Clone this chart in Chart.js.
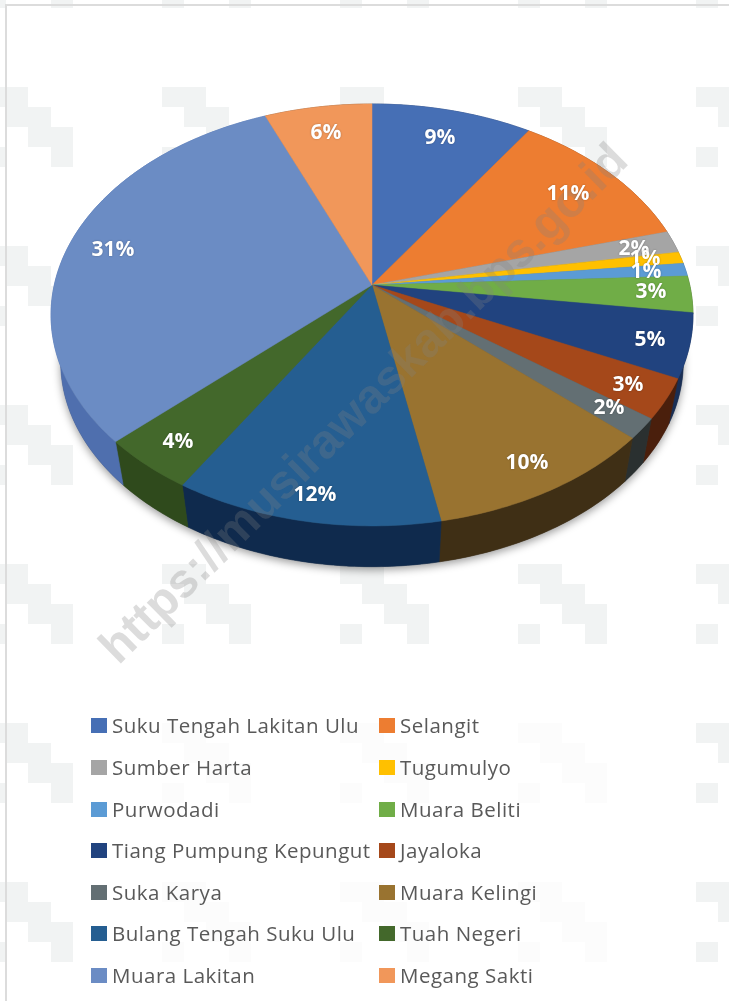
<!DOCTYPE html>
<html>
<head>
<meta charset="utf-8">
<script src="https://cdn.jsdelivr.net/npm/chart.js@4"></script>
<style>
    html, body { margin: 0; padding: 0; background: #fff; }
    #wrap { position: relative; width: 729px; height: 1001px; overflow: hidden; }
    #pie { position: absolute; left: 0; top: 0; }
    #frame { position: absolute; left: 5px; top: 4px; right: -5px; bottom: -5px; border: 2px solid #dcdcdc; }
    #legend-bg { position: absolute; left: 80px; top: 705px; width: 535px; height: 296px; background: rgba(255,255,255,0.75); }
    .item { position: absolute; font: 20.5px/24px "Open Sans", sans-serif; letter-spacing: 0.5px; color: #595959; white-space: nowrap; }
    .swatch { position: absolute; width: 16px; height: 15px; }
</style>
</head>
<body>
<div id="wrap">
    <canvas id="pie" width="729" height="1001"></canvas>
    <div id="frame"></div>
    <div id="legend-bg"></div>
    <div id="legend"></div>
</div>
<script>
// Data
const categories = ['Suku Tengah Lakitan Ulu', 'Selangit', 'Sumber Harta', 'Tugumulyo', 'Purwodadi', 'Muara Beliti',
    'Tiang Pumpung Kepungut', 'Jayaloka', 'Suka Karya', 'Muara Kelingi', 'Bulang Tengah Suku Ulu', 'Tuah Negeri',
    'Muara Lakitan', 'Megang Sakti'];
const shares = [9.3, 11.4, 1.7, 0.9, 1.0, 2.8, 4.9, 3.1, 1.6, 10.3, 11.8, 4.2, 30.8, 6.2];

// Colours
const topColors = ['#466fb5', '#ed7d31', '#a5a5a5', '#ffc000', '#5b9bd5', '#70ad47', '#21437f', '#a5481a', '#636f73',
    '#997330', '#255e91', '#43682b', '#6b8cc4', '#f1975a'];
const sideColors = ['#2a4370', '#8a4a1d', '#666666', '#99750a', '#3a6a96', '#43682b', '#1a2f55', '#4a1f0c', '#2a3030',
    '#3f2f15', '#0f2a4d', '#2f4a1c', '#4f6fae', '#8a5a35'];

// Where each percent label sits on the page
const labelAt = [[440, 138], [568, 194], [634, 249], [645, 259], [646, 272], [651, 292], [650, 340], [628, 385],
    [609, 408], [527, 463], [315, 495], [178, 442], [113, 250], [326, 133]];

// Pie face perspective
const APEX_X = 372, APEX_Y = 285;
const SPREAD_X = 317.7, SPREAD_Y = 206.7, TILT = 0.142;
// Bottom rim of the disc
const DEPTH_SCALE = 0.97, DEPTH_DROP = 48;

// Background tile
const TILE_W = 178, TILE_H = 159, TILE_X = -16, TILE_Y = -72;
const tileRows = [[0, 44], [22, 67], [44, 89], [0, 22], [67, 89]];
const tileRowY = [0, 20, 40, 60, 60];

const WATERMARK = 'https://musirawaskab.bps.go.id';

// Chart angle and radius fraction -> page position
function project(angle, r) {
    const u = r * Math.cos(angle);
    const v = -r * Math.sin(angle);
    const w = 1 + TILT * v;
    return { x: APEX_X + SPREAD_X * u / w, y: APEX_Y - SPREAD_Y * v / w };
}

function lowered(p) {
    return {
        x: APEX_X + (p.x - APEX_X) * DEPTH_SCALE,
        y: APEX_Y + (p.y - APEX_Y) * DEPTH_SCALE + DEPTH_DROP
    };
}

function rimPoints(start, end) {
    const pts = [];
    const steps = Math.max(2, Math.ceil((end - start) / 0.015));
    for (let i = 0; i <= steps; i++) {
        pts.push(project(start + (end - start) * i / steps, 1));
    }
    return pts;
}

function tracePath(ctx, pts) {
    ctx.beginPath();
    pts.forEach((p, i) => { if (i === 0) ctx.moveTo(p.x, p.y); else ctx.lineTo(p.x, p.y); });
    ctx.closePath();
}

const tiltedPie = {
    id: 'tiltedPie',
    beforeDraw(chart) {
        const ctx = chart.ctx;
        ctx.save();
        ctx.fillStyle = '#f1f3f3';
        for (let ty = TILE_Y; ty < 1001; ty += TILE_H) {
            for (let tx = TILE_X; tx < 729; tx += TILE_W) {
                tileRows.forEach((row, i) => {
                    ctx.fillRect(tx + row[0], ty + tileRowY[i], row[1] - row[0], 20);
                });
            }
        }
        ctx.restore();
    },
    beforeDatasetDraw(chart) {
        const ctx = chart.ctx;
        const arcs = chart.getDatasetMeta(0).data;
        ctx.save();

        // soft shadow under the disc
        const whole = rimPoints(0, Math.PI * 2).map(lowered);
        ctx.save();
        ctx.shadowColor = 'rgba(0,0,0,0.4)';
        ctx.shadowBlur = 9;
        ctx.shadowOffsetY = 3;
        ctx.fillStyle = '#555';
        tracePath(ctx, whole);
        ctx.fill();
        ctx.restore();

        // side wall
        arcs.forEach((arc, i) => {
            const rim = rimPoints(arc.startAngle, arc.endAngle);
            const wall = rim.concat(rim.map(lowered).reverse());
            ctx.fillStyle = sideColors[i];
            ctx.strokeStyle = sideColors[i];
            ctx.lineWidth = 0.6;
            tracePath(ctx, wall);
            ctx.fill();
            ctx.stroke();
        });

        // top face
        arcs.forEach((arc, i) => {
            const face = [{ x: APEX_X, y: APEX_Y }].concat(rimPoints(arc.startAngle, arc.endAngle));
            ctx.fillStyle = topColors[i];
            ctx.strokeStyle = topColors[i];
            ctx.lineWidth = 0.5;
            tracePath(ctx, face);
            ctx.fill();
            ctx.stroke();
        });
        ctx.restore();
        return false; // the flat arcs are replaced by the tilted ones
    },
    afterDatasetsDraw(chart) {
        const ctx = chart.ctx;
        ctx.save();

        // watermark goes over the pie
        ctx.save();
        ctx.translate(365, 405);
        ctx.rotate(-44.5 * Math.PI / 180);
        ctx.font = 'bold 48px "Liberation Sans"';
        ctx.textAlign = 'center';
        ctx.textBaseline = 'middle';
        ctx.fillStyle = 'rgba(128,128,128,0.28)';
        ctx.fillText(WATERMARK, 0, 0);
        ctx.restore();

        // percent labels
        ctx.font = 'bold 21px "Open Sans"';
        ctx.textAlign = 'center';
        ctx.textBaseline = 'middle';
        ctx.fillStyle = '#fff';
        ctx.shadowColor = 'rgba(0,0,0,0.3)';
        ctx.shadowBlur = 2;
        shares.forEach((s, i) => {
            ctx.fillText(Math.round(s) + '%', labelAt[i][0], labelAt[i][1]);
        });
        ctx.restore();
    }
};

new Chart(document.getElementById('pie'), {
    type: 'pie',
    data: {
        labels: categories,
        datasets: [{ data: shares, backgroundColor: topColors, borderWidth: 0 }]
    },
    options: {
        responsive: false,
        animation: false,
        plugins: { legend: { display: false }, tooltip: { enabled: false } }
    },
    plugins: [tiltedPie]
});

// Legend, two columns
const legendEl = document.getElementById('legend');
const rowY = [725, 767, 809, 850, 892, 933, 975];
categories.forEach((name, i) => {
    const col = i % 2;
    const y = rowY[Math.floor(i / 2)];
    const swatch = document.createElement('div');
    swatch.className = 'swatch';
    swatch.style.left = (col ? 379 : 91) + 'px';
    swatch.style.top = (y - 7) + 'px';
    swatch.style.background = topColors[i];
    legendEl.appendChild(swatch);
    const label = document.createElement('div');
    label.className = 'item';
    label.textContent = name;
    label.style.left = (col ? 400 : 112) + 'px';
    label.style.top = (y - 12) + 'px';
    legendEl.appendChild(label);
});
</script>
</body>
</html>
